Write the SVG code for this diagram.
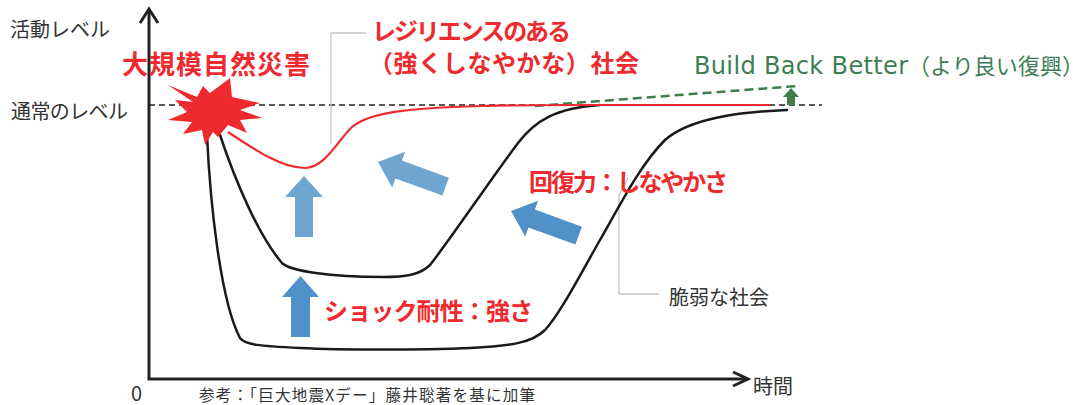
<svg xmlns="http://www.w3.org/2000/svg" width="1083" height="405" viewBox="0 0 1083 405">
<style>
.t{font-family:"Noto Sans CJK JP","Noto Sans",sans-serif;fill:#333}
.r{font-family:"Noto Sans CJK JP","Noto Sans",sans-serif;font-weight:bold;fill:#EE2A2F}
.g{font-family:"DejaVu Sans","Noto Sans CJK JP",sans-serif;fill:#3D7D55}
.gj{font-family:"Noto Sans CJK JP",sans-serif;fill:#3D7D55}
.ax{stroke:#222;stroke-width:3;fill:none}
.cv{stroke:#1a1a1a;stroke-width:2.5;fill:none;stroke-linecap:round}
.red{stroke:#EE2A2F;stroke-width:2.2;fill:none}
.lead{stroke:#c4c4c4;stroke-width:1.3;fill:none}
.lb{fill:#70A5CF}
.db{fill:#5191C9}
</style>
<defs>
<polygon id="larr" points="0,0 22,-19 22,-9.5 72,-9.5 72,9.5 22,9.5 22,19"/>
</defs>
<rect width="1083" height="405" fill="#fff"/>
<g id="axes">
<path class="ax" d="M149,9 L149,379 L748,379"/>
<path class="ax" d="M140,23 L149,9 L158,23"/>
<path class="ax" d="M733,372 L748,379 L733,386"/>
</g>
<g id="connectors">
<line x1="149" y1="105" x2="822" y2="105" stroke="#222" stroke-width="1.6" stroke-dasharray="6,4"/>
<line x1="535" y1="106" x2="797" y2="86" stroke="#3F7D4A" stroke-width="2.5" stroke-dasharray="9,5"/>
<path class="lead" d="M366,33 L331,33 L331,144"/>
<path class="lead" d="M628,178 L619,196 L619,294 L659,294"/>
<path id="outer" class="cv" d="M207,135 C210,200 220,300 240,338 C245,345 260,346 300,348 C340,350 420,350 470,348 C510,346 532,343 545,330 C560,314 580,275 600,240 C620,205 640,165 665,140 C690,118 740,112 787,110"/>
<path id="middle" class="cv" d="M220,135 C235,180 258,235 282,263 C290,271 330,277 383,277 C405,277 420,275 430,265 C450,240 490,180 518,143 C535,121 555,108 600,105"/>
<path id="resilient" class="red" d="M228,132 C255,150 282,168 305,168 C325,168 338,140 352,127 C370,112 410,108 480,106 C520,105 560,105 600,105 L770,105"/>
</g>
<g id="disaster">
<polygon fill="#EE2A2F" points="168,85 197,97 203,86 210,93 230,78 232,97 260,103 240,110 262,118 240,120 247,133 228,125 218,137 213,132 205,145 202,130 183,134 192,122 168,120 187,112 175,100 193,102"/>
</g>
<g id="arrows">
<polygon class="lb" points="285,197 304,176 323,197 313,197 313,237 295,237 295,197"/>
<polygon class="db" points="282,297 300.5,276 319,297 310,297 310,337 291,337 291,297"/>
<use href="#larr" class="lb" transform="translate(378,162) rotate(20)"/>
<use href="#larr" class="db" transform="translate(511,211) rotate(20)"/>
<polygon fill="#3F7D4A" points="783,97 791,88 799,97 795,97 795,105 787,105 787,97"/>
</g>
<g id="labels">
<text class="t" x="10" y="37" font-size="20" textLength="100">活動レベル</text>
<text class="t" x="11" y="119" font-size="20" textLength="117">通常のレベル</text>
<text class="t" x="131" y="401" font-size="20">0</text>
<text class="t" x="753" y="394" font-size="20" textLength="40">時間</text>
<text class="t" x="669" y="305" font-size="20" textLength="100">脆弱な社会</text>
<text class="t" x="199" y="401" font-size="15.5" fill="#444" textLength="336">参考：「巨大地震Xデー」藤井聡著を基に加筆</text>
</g>
<g id="title-disaster"><text class="r" x="122" y="74" font-size="26" textLength="188">大規模自然災害</text></g>
<g id="title-resilient">
<text class="r" x="372" y="40" font-size="24" textLength="199">レジリエンスのある</text>
<text class="r" x="369" y="72" font-size="24" textLength="270">（強くしなやかな）社会</text>
</g>
<g id="title-bbb">
<text class="g" x="694" y="74" font-size="24" textLength="214">Build Back Better</text>
<text class="gj" x="908" y="74" font-size="22" textLength="176">（より良い復興）</text>
</g>
<g id="title-recovery"><text class="r" x="529" y="191" font-size="24" textLength="199">回復力：しなやかさ</text></g>
<g id="title-shock"><text class="r" x="324" y="320" font-size="24" textLength="209">ショック耐性：強さ</text></g>
</svg>
